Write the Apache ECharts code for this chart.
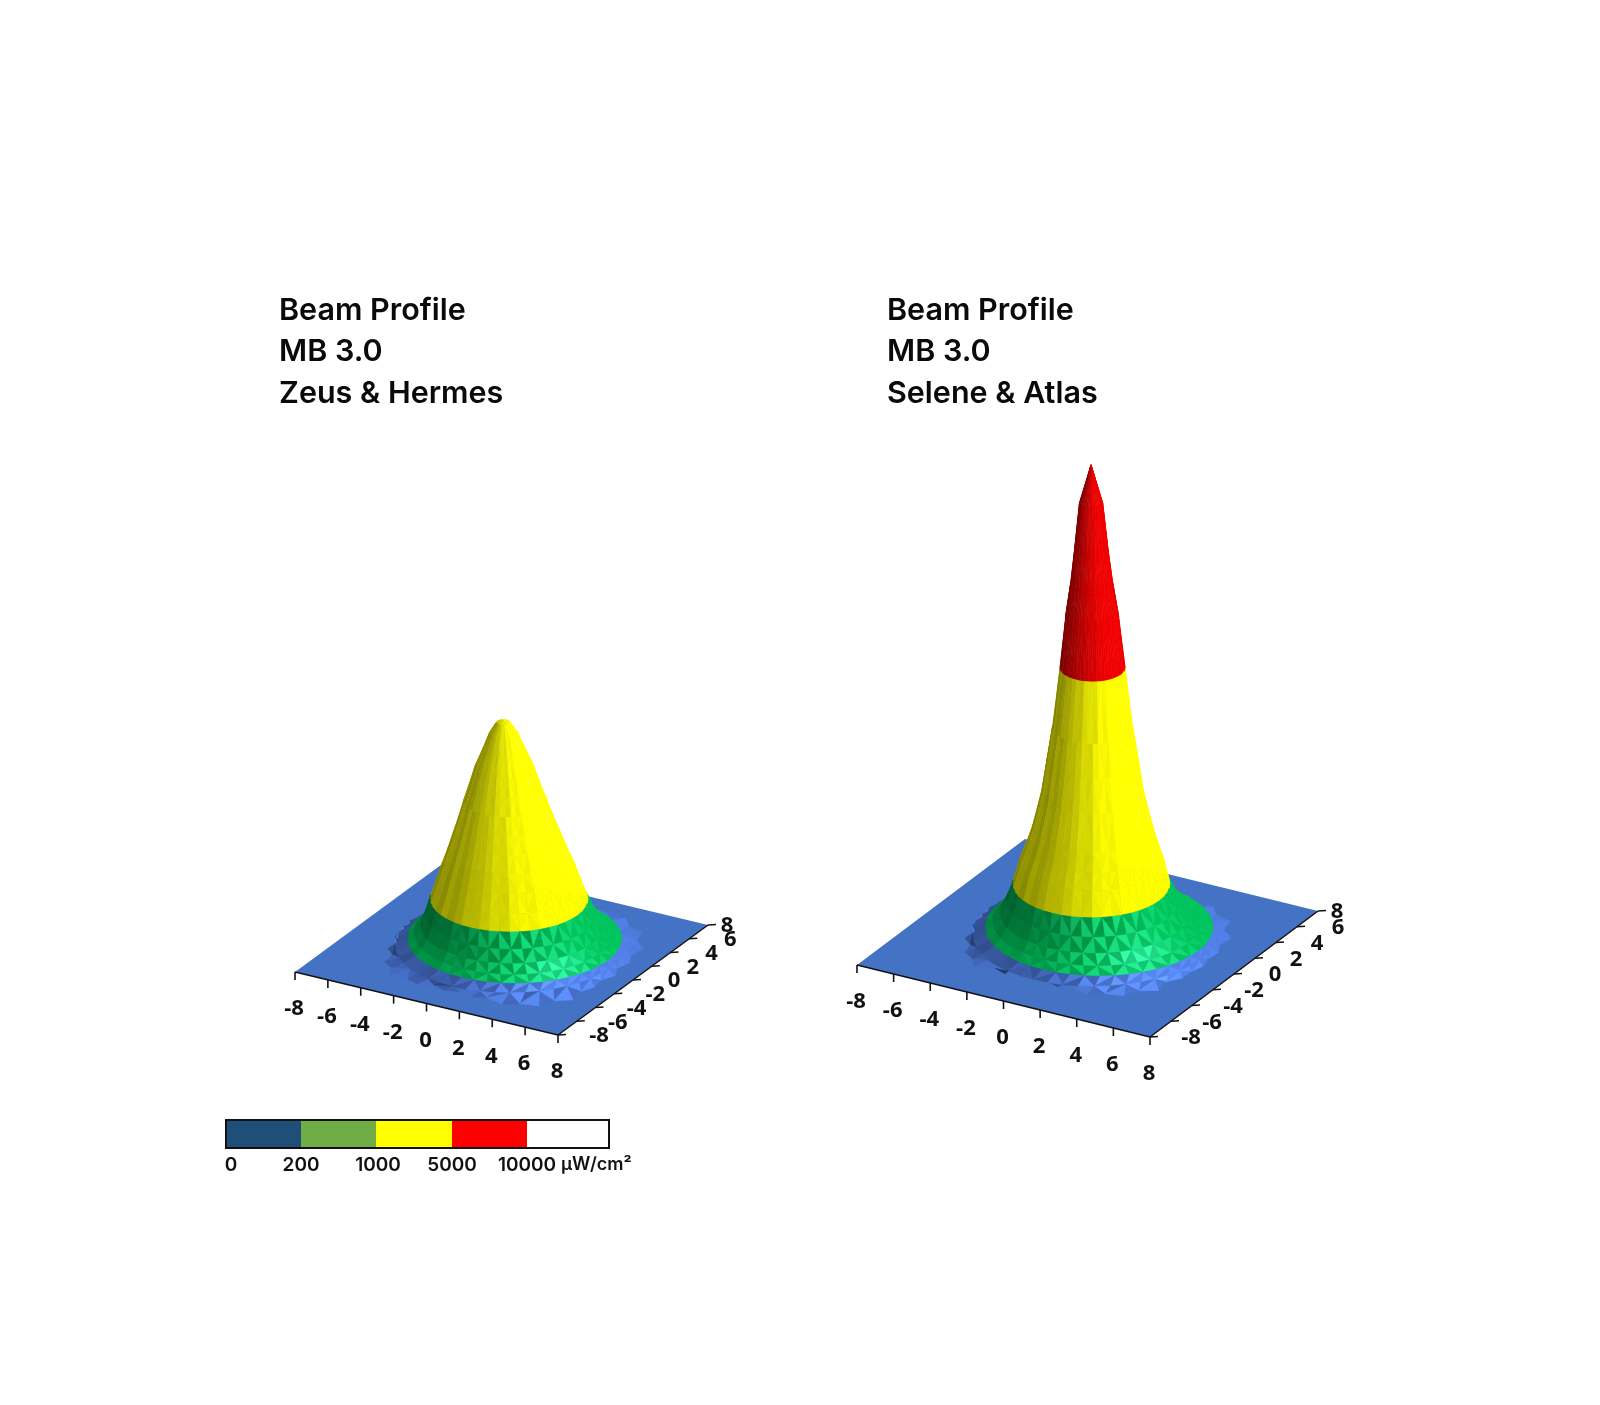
<!DOCTYPE html>
<html><head><meta charset="utf-8">
<style>html,body{margin:0;padding:0;background:#fff}#c{width:1600px;height:1405px}</style>
<script src="https://cdn.jsdelivr.net/npm/echarts@6/dist/echarts.min.js"></script>
</head><body><div id="c"></div>
<script>
// ---------- values ----------
const axisTicks = [-8,-6,-4,-2,0,2,4,6,8];
const bandEdges = [0,200,1000,5000,10000];
const bandLabels = ['0','200','1000','5000','10000'];
const unitLabel = 'µW/cm²';
const titleLeft = 'Beam Profile\nMB 3.0\nZeus & Hermes';
const titleRight = 'Beam Profile\nMB 3.0\nSelene & Atlas';

// radial profile: distance from beam axis (axis units) -> irradiance (µW/cm²)
const zeusRadius = [0,0.35,0.75,1.1,1.54,1.85,2.18,2.5,2.82,3.17,3.52,3.85,4.17,4.5,4.85,5.25,5.67,6.05];
const zeusLevel  = [4600,4566,4343,4040,3677,3333,2990,2646,2323,1980,1657,1313,1000,700,470,310,200,70];
const zeusCentre = [0.09,0.09,0.11,0.13,0.15,0.17,0.2,0.24,0.28,0.32,0.36,0.38,0.40,0.47,0.55,0.62,0.69,0.4];
const seleneRadius = [0,0.55,0.8,1.0,1.26,1.54,1.9,2.16,2.42,2.84,3.12,3.4,3.72,4.1,4.5,4.95,5.4,5.75];
const seleneLevel  = [8760,8055,7185,6560,5944,5000,3907,3296,2685,2055,1720,1444,1000,700,470,310,200,70];
const seleneCentre = [0.17,0.17,0.18,0.2,0.22,0.24,0.24,0.24,0.24,0.24,0.22,0.2,0.18,0.26,0.35,0.45,0.55,0.3];
// outer edge of the low skirt, one value per 7.5 degrees from +x
const zeusEdge = [6.9,6.6,7.0,6.9,7.5,7.2,7.7,7.3,7.6,7.1,7.04,6.55,6.8,6.5,7.04,7.0,7.4,7.0,7.2,6.6,6.4,5.9,5.9,5.5,5.7,5.45,5.8,5.6,6.0,5.8,6.4,6.3,6.9,6.25,6.31,5.85,6.1,5.85,6.31,6.25,7.04,7.05,7.5,7.15,7.5,6.85,6.9,6.6];
const seleneEdge = [6.3,6.15,6.4,6.3,6.8,6.5,7.0,6.6,6.9,6.4,6.4,5.95,6.2,5.9,6.4,6.4,6.7,6.3,6.5,6.0,5.9,5.6,5.7,5.3,5.5,5.3,5.6,5.4,5.8,5.6,6.0,5.9,6.2,5.5,5.55,5.1,5.3,5.1,5.55,5.5,6.2,6.2,6.6,6.3,6.7,6.1,6.3,6.15];

// ---------- drawing styles ----------
const FONT_AXIS = '"Open Sans"';
const SECTORS = 48;
const facetTone = [0.03,-0.05,0.06,-0.02,0.08,-0.07,0.01,0.05,-0.04,0.07,-0.06];
const bandStyle = [
  {rgb:[82,128,232], jitter:0.5, glow:[20,30,40], spike:0.12, up:0, contrast:1.5},
  {rgb:[0,198,90],  jitter:0.35, glow:[35,40,55], spike:0.12, up:0.22, contrast:1},
  {rgb:[255,255,0], jitter:0.5, glow:[0,0,0], spike:0.012, up:0, contrast:1},
  {rgb:[240,0,0],   jitter:0.35, glow:[0,0,0], spike:0, up:0, contrast:1}
];
const legendColors = ['#1F4E79','#70AD47','#FFFF00','#FF0000','#FFFFFF'];
const legendStops = [226,301,376,452,527,609];

// axis calibration of each panel: where the plot corners fall
const panels = [
  {corner:[295,972], right:[558,1035], far:[708,925], zScale:0.0495,
   radius:zeusRadius, level:zeusLevel, centre:zeusCentre, edge:zeusEdge},
  {corner:[857,965], right:[1150,1037], far:[1318,911], zScale:0.054,
   radius:seleneRadius, level:seleneLevel, centre:seleneCentre, edge:seleneEdge}
];

// ---------- projection and mesh ----------
function setup(p){
  p.ex=[(p.right[0]-p.corner[0])/16,(p.right[1]-p.corner[1])/16];
  p.ey=[(p.far[0]-p.right[0])/16,(p.far[1]-p.right[1])/16];
  p.o=[(p.corner[0]+p.far[0])/2,(p.corner[1]+p.far[1])/2];
  p.u=Math.hypot(p.ex[0],p.ey[0]);
  p.rx=p.ex[0]/p.u; p.ry=p.ey[0]/p.u;
  const vx=-p.ey[0], vy=p.ex[0], vz=p.ex[0]*p.ey[1]-p.ey[0]*p.ex[1];
  const s=vz<0?-1:1;
  p.v=[s*vx,s*vy,s*vz];
  p.view=norm([p.v[0]*p.u,p.v[1]*p.u,p.v[2]]);
}
function norm(a){const l=Math.hypot(a[0],a[1],a[2])||1;return [a[0]/l,a[1]/l,a[2]/l];}
function project(p,x,y,lvl){
  return [p.o[0]+x*p.ex[0]+y*p.ey[0], p.o[1]+x*p.ex[1]+y*p.ey[1]-(lvl||0)*p.zScale];
}
function bandOf(l){let b=0;for(let i=1;i<bandEdges.length-1;i++) if(l>=bandEdges[i]) b=i;return b;}

function buildFaces(p){
  const rings=[];
  p.radius.forEach((r,j)=>{
    const row=[];
    for(let k=0;k<SECTORS;k++){const t=k*2*Math.PI/SECTORS;
      row.push({x:r*Math.cos(t)+p.centre[j]*p.rx, y:r*Math.sin(t)+p.centre[j]*p.ry, l:p.level[j]});}
    rings.push(row);
  });
  const last=[];
  for(let k=0;k<SECTORS;k++){const t=k*2*Math.PI/SECTORS;
    last.push({x:p.edge[k]*Math.cos(t), y:p.edge[k]*Math.sin(t), l:0});}
  rings.push(last);
  const faces=[];
  const lightAz=-33*Math.PI/180, lightEl=50*Math.PI/180;
  const L=[Math.cos(lightEl)*Math.cos(lightAz),Math.cos(lightEl)*Math.sin(lightAz),Math.sin(lightEl)];
  for(let j=0;j<rings.length-1;j++)for(let k=0;k<SECTORS;k++){
    const k2=(k+1)%SECTORS;
    const a=rings[j][k],b=rings[j][k2],c=rings[j+1][k2],d=rings[j+1][k];
    const tris=(j+k)%2?[[a,b,c],[a,c,d]]:[[a,b,d],[b,c,d]];
    tris.forEach((tri,ti)=>{
      const w=tri.map(q=>[q.x*p.u,q.y*p.u,q.l*p.zScale]);
      const e1=[w[1][0]-w[0][0],w[1][1]-w[0][1],w[1][2]-w[0][2]];
      const e2=[w[2][0]-w[0][0],w[2][1]-w[0][1],w[2][2]-w[0][2]];
      let n=[e1[1]*e2[2]-e1[2]*e2[1],e1[2]*e2[0]-e1[0]*e2[2],e1[0]*e2[1]-e1[1]*e2[0]];
      if(Math.hypot(n[0],n[1],n[2])<1e-6) return;
      n=norm(n); if(n[2]<0) n=[-n[0],-n[1],-n[2]];
      if(n[0]*p.view[0]+n[1]*p.view[1]+n[2]*p.view[2]<0) return;
      const mean=(a.l+b.l+c.l+d.l)/4;
      const st=bandStyle[bandOf(mean)];
      const s=0.5+st.contrast*0.5*(n[0]*p.rx+n[1]*p.ry);
      const spec=Math.pow(Math.max(0,n[0]*L[0]+n[1]*L[1]+n[2]*L[2]),40);
      const jig=facetTone[(k*3+Math.floor(j/6)*5)%facetTone.length]*st.jitter;
      const az=(k+0.5)*2*Math.PI/SECTORS;
      const front=Math.pow(Math.max(0,Math.cos(az+40*Math.PI/180)),3);
      const sign=((k%2)?1:-1)*(ti?1:-1);
      const spike=sign*st.spike*front;
      let tone=0.52+0.72*s+jig+spike;
      tone+=st.up*(n[2]-0.6)*(1-Math.max(0,n[0]*p.rx+n[1]*p.ry));
      tone=Math.min(1,tone);
      const boost=spec+(sign>0?0.55*front*st.spike/0.12:0);
      const rgb=st.rgb.map((v,i)=>Math.max(0,Math.min(255,Math.round(v*tone+st.glow[i]*boost))));
      const cx=(tri[0].x+tri[1].x+tri[2].x)/3, cy=(tri[0].y+tri[1].y+tri[2].y)/3;
      faces.push({pts:tri.map(q=>project(p,q.x,q.y,q.l)),
        color:'rgb('+rgb.join(',')+')', depth:p.v[0]*cx+p.v[1]*cy});
    });
  }
  faces.sort((f,g)=>f.depth-g.depth);
  return faces;
}

function planeSeries(p){
  const c=[project(p,-8,-8),project(p,8,-8),project(p,8,8),project(p,-8,8)];
  return {type:'custom',coordinateSystem:'none',silent:true,animation:false,z:1,
    data:[0],renderItem:()=>({type:'polygon',shape:{points:c},style:{fill:'#4472C4'}})};
}
function surfaceSeries(p){
  const faces=buildFaces(p);
  return {type:'custom',coordinateSystem:'none',silent:true,animation:false,z:2,progressive:0,
    data:faces.map((f,i)=>i),
    renderItem:(q,api)=>{const f=faces[api.value(0)];
      return {type:'polygon',shape:{points:f.pts},style:{fill:f.color,stroke:f.color,lineWidth:0.6}};}};
}
function axisSeries(p){
  const A=project(p,-8,-8),B=project(p,8,-8),C=project(p,8,8);
  const kids=[
    {type:'line',shape:{x1:A[0],y1:A[1],x2:B[0],y2:B[1]},style:{stroke:'#111',lineWidth:1.5}},
    {type:'line',shape:{x1:B[0],y1:B[1],x2:C[0],y2:C[1]},style:{stroke:'#111',lineWidth:1.5}}
  ];
  axisTicks.forEach((t,i)=>{
    const a=project(p,t,-8), b=project(p,8,t);
    kids.push({type:'line',shape:{x1:a[0],y1:a[1],x2:a[0],y2:a[1]+8},style:{stroke:'#111',lineWidth:1.6}});
    kids.push({type:'line',shape:{x1:b[0],y1:b[1],x2:b[0]+8,y2:b[1]-0.5},style:{stroke:'#111',lineWidth:1.6}});
    const sty={text:String(t),fill:'#111',font:'700 22px '+FONT_AXIS,align:'center',verticalAlign:'middle'};
    kids.push({type:'text',x:a[0]-1,y:a[1]+37,style:sty});
    kids.push({type:'text',x:b[0]+(i===axisTicks.length-1?19:41),y:b[1]+1,style:sty});
  });
  return {type:'custom',coordinateSystem:'none',silent:true,animation:false,z:3,
    data:[0],renderItem:()=>({type:'group',children:kids})};
}
function legendSeries(){
  const top=1120,h=28;
  const kids=[];
  legendColors.forEach((col,i)=>{
    kids.push({type:'rect',shape:{x:legendStops[i],y:top,width:legendStops[i+1]-legendStops[i],height:h},style:{fill:col}});
  });
  kids.push({type:'rect',shape:{x:legendStops[0],y:top,width:legendStops[5]-legendStops[0],height:h},style:{fill:'none',stroke:'#111',lineWidth:2}});
  bandEdges.forEach((e,i)=>{
    kids.push({type:'text',x:i===0?231:legendStops[i]+(i===2?2:0),y:1165,
      style:{text:bandLabels[i],fill:'#111',font:'600 19px Inter',align:'center',verticalAlign:'middle'}});
  });
  kids.push({type:'text',x:561,y:1165,style:{text:unitLabel,fill:'#111',font:'600 18px Inter',align:'left',verticalAlign:'middle'}});
  return {type:'custom',coordinateSystem:'none',silent:true,animation:false,z:4,
    data:[0],renderItem:()=>({type:'group',children:kids})};
}

panels.forEach(setup);
const series=[];
panels.forEach(p=>{series.push(planeSeries(p),surfaceSeries(p),axisSeries(p));});
series.push(legendSeries());

const titleStyle={fontFamily:'Inter',fontWeight:600,fontSize:30.5,lineHeight:41.5,color:'#0a0a0a'};
const chart=echarts.init(document.getElementById('c'),null,{renderer:'canvas'});
chart.setOption({
  animation:false,
  backgroundColor:'#ffffff',
  title:[
    {text:titleLeft,left:279,top:290,padding:0,textStyle:titleStyle},
    {text:titleRight,left:887,top:290,padding:0,textStyle:titleStyle}
  ],
  series
});
</script></body></html>
